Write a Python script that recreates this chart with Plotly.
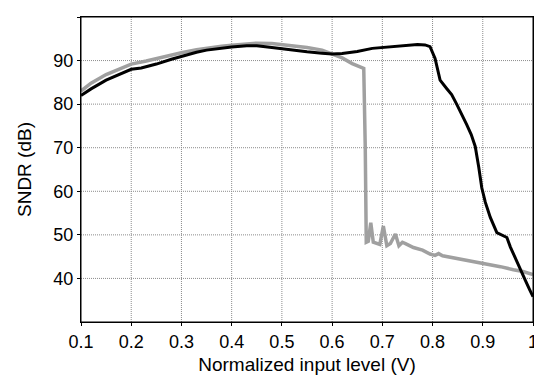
import plotly.graph_objects as go

# Black curve
black_x = [0.10, 0.12, 0.15, 0.18, 0.20, 0.22, 0.25, 0.28, 0.30, 0.33, 0.35, 0.38, 0.40, 0.43, 0.45, 0.48,
           0.50, 0.53, 0.55, 0.58, 0.60, 0.62, 0.65, 0.68, 0.70, 0.72, 0.75, 0.77, 0.785, 0.795,
           0.805, 0.815, 0.828, 0.838, 0.848, 0.858, 0.868, 0.877, 0.885, 0.892, 0.898, 0.905,
           0.915, 0.928, 0.940, 0.948, 0.955, 0.965, 0.975, 0.985, 0.993, 1.0]
black_y = [82.0, 83.5, 85.5, 87.0, 88.0, 88.3, 89.2, 90.3, 91.0, 91.9, 92.4, 92.9, 93.1, 93.4, 93.4, 93.0,
           92.7, 92.2, 92.0, 91.7, 91.5, 91.6, 92.1, 92.8, 93.0, 93.3, 93.6, 93.7, 93.6, 93.2,
           90.5, 85.5, 83.6, 82.2, 80.0, 77.8, 75.3, 73.0, 70.3, 65.5, 60.8, 57.5,
           54.0, 50.5, 49.8, 49.4, 47.2, 44.5, 41.8, 39.5, 37.5, 35.8]

# Gray curve
gray_x = [0.10, 0.12, 0.15, 0.18, 0.20, 0.23, 0.25, 0.28, 0.30, 0.33, 0.35, 0.38, 0.40, 0.43, 0.45,
          0.48, 0.50, 0.53, 0.55, 0.58, 0.60, 0.62, 0.64, 0.663, 0.666, 0.668, 0.672, 0.677, 0.682,
          0.688, 0.695, 0.702, 0.709, 0.716, 0.726, 0.733, 0.740, 0.746, 0.754, 0.762, 0.78,
          0.795, 0.805, 0.812, 0.82, 0.84, 0.862, 0.885, 0.908, 0.935, 0.961, 0.98, 1.0]
gray_y = [83.0, 84.8, 86.8, 88.3, 89.2, 89.9, 90.5, 91.2, 91.8, 92.5, 92.9, 93.3, 93.5, 93.8, 94.0,
          93.9, 93.7, 93.4, 93.0, 92.4, 91.6, 90.6, 89.3, 88.2, 70.0, 48.3, 48.5, 52.8, 48.3,
          48.0, 47.8, 52.0, 47.5, 48.0, 50.2, 47.5, 48.3, 48.0, 47.6, 47.1, 46.5,
          45.6, 45.3, 45.7, 45.2, 44.8, 44.3, 43.8, 43.3, 42.7, 42.0, 41.6, 40.9]

x_ticks = [0.1, 0.2, 0.3, 0.4, 0.5, 0.6, 0.7, 0.8, 0.9, 1.0]
x_labels = ["0.1", "0.2", "0.3", "0.4", "0.5", "0.6", "0.7", "0.8", "0.9", "1"]
y_ticks = [40, 50, 60, 70, 80, 90, 100]

FONT = "Arial"

fig = go.Figure()

# dotted grid lines at the tick positions
for xv in x_ticks[1:-1]:
    fig.add_shape(type="line", xref="x", yref="paper", x0=xv, x1=xv, y0=0, y1=1,
                  line=dict(color="#8c8c8c", width=1, dash="1px,1px"), layer="below")
for yv in y_ticks[:-1]:
    fig.add_shape(type="line", xref="paper", yref="y", x0=0, x1=1, y0=yv, y1=yv,
                  line=dict(color="#8c8c8c", width=1, dash="1px,1px"), layer="below")

fig.add_trace(go.Scatter(x=gray_x, y=gray_y, mode="lines",
                         line=dict(color="#a0a0a0", width=3.5), showlegend=False))
fig.add_trace(go.Scatter(x=black_x, y=black_y, mode="lines",
                         line=dict(color="#000000", width=3), showlegend=False))

# plot frame
fig.add_shape(type="rect", xref="paper", yref="paper", x0=0, x1=1, y0=0, y1=1,
              line=dict(color="black", width=1), layer="above")

axis_common = dict(
    showline=True, linecolor="black", linewidth=1, mirror=True,
    ticks="outside", ticklen=3, tickcolor="black", tickwidth=1,
    showgrid=False, zeroline=False, automargin=False,
    tickfont=dict(family=FONT, size=18, color="black"),
)

fig.update_xaxes(range=[0.1, 1.0], tickvals=x_ticks, ticktext=x_labels,
                 title=dict(text="Normalized input level (V)", standoff=7,
                            font=dict(family=FONT, size=19, color="black")),
                 **axis_common)
fig.update_yaxes(range=[30, 100], tickvals=y_ticks,
                 title=dict(text="SNDR (dB)", standoff=16,
                            font=dict(family=FONT, size=19, color="black")),
                 **axis_common)

fig.update_layout(
    width=534, height=369,
    margin=dict(l=73, r=9, t=9, b=55),
    plot_bgcolor="white", paper_bgcolor="white",
    font=dict(family=FONT, size=18, color="black"),
)

fig.write_html("out.html")
